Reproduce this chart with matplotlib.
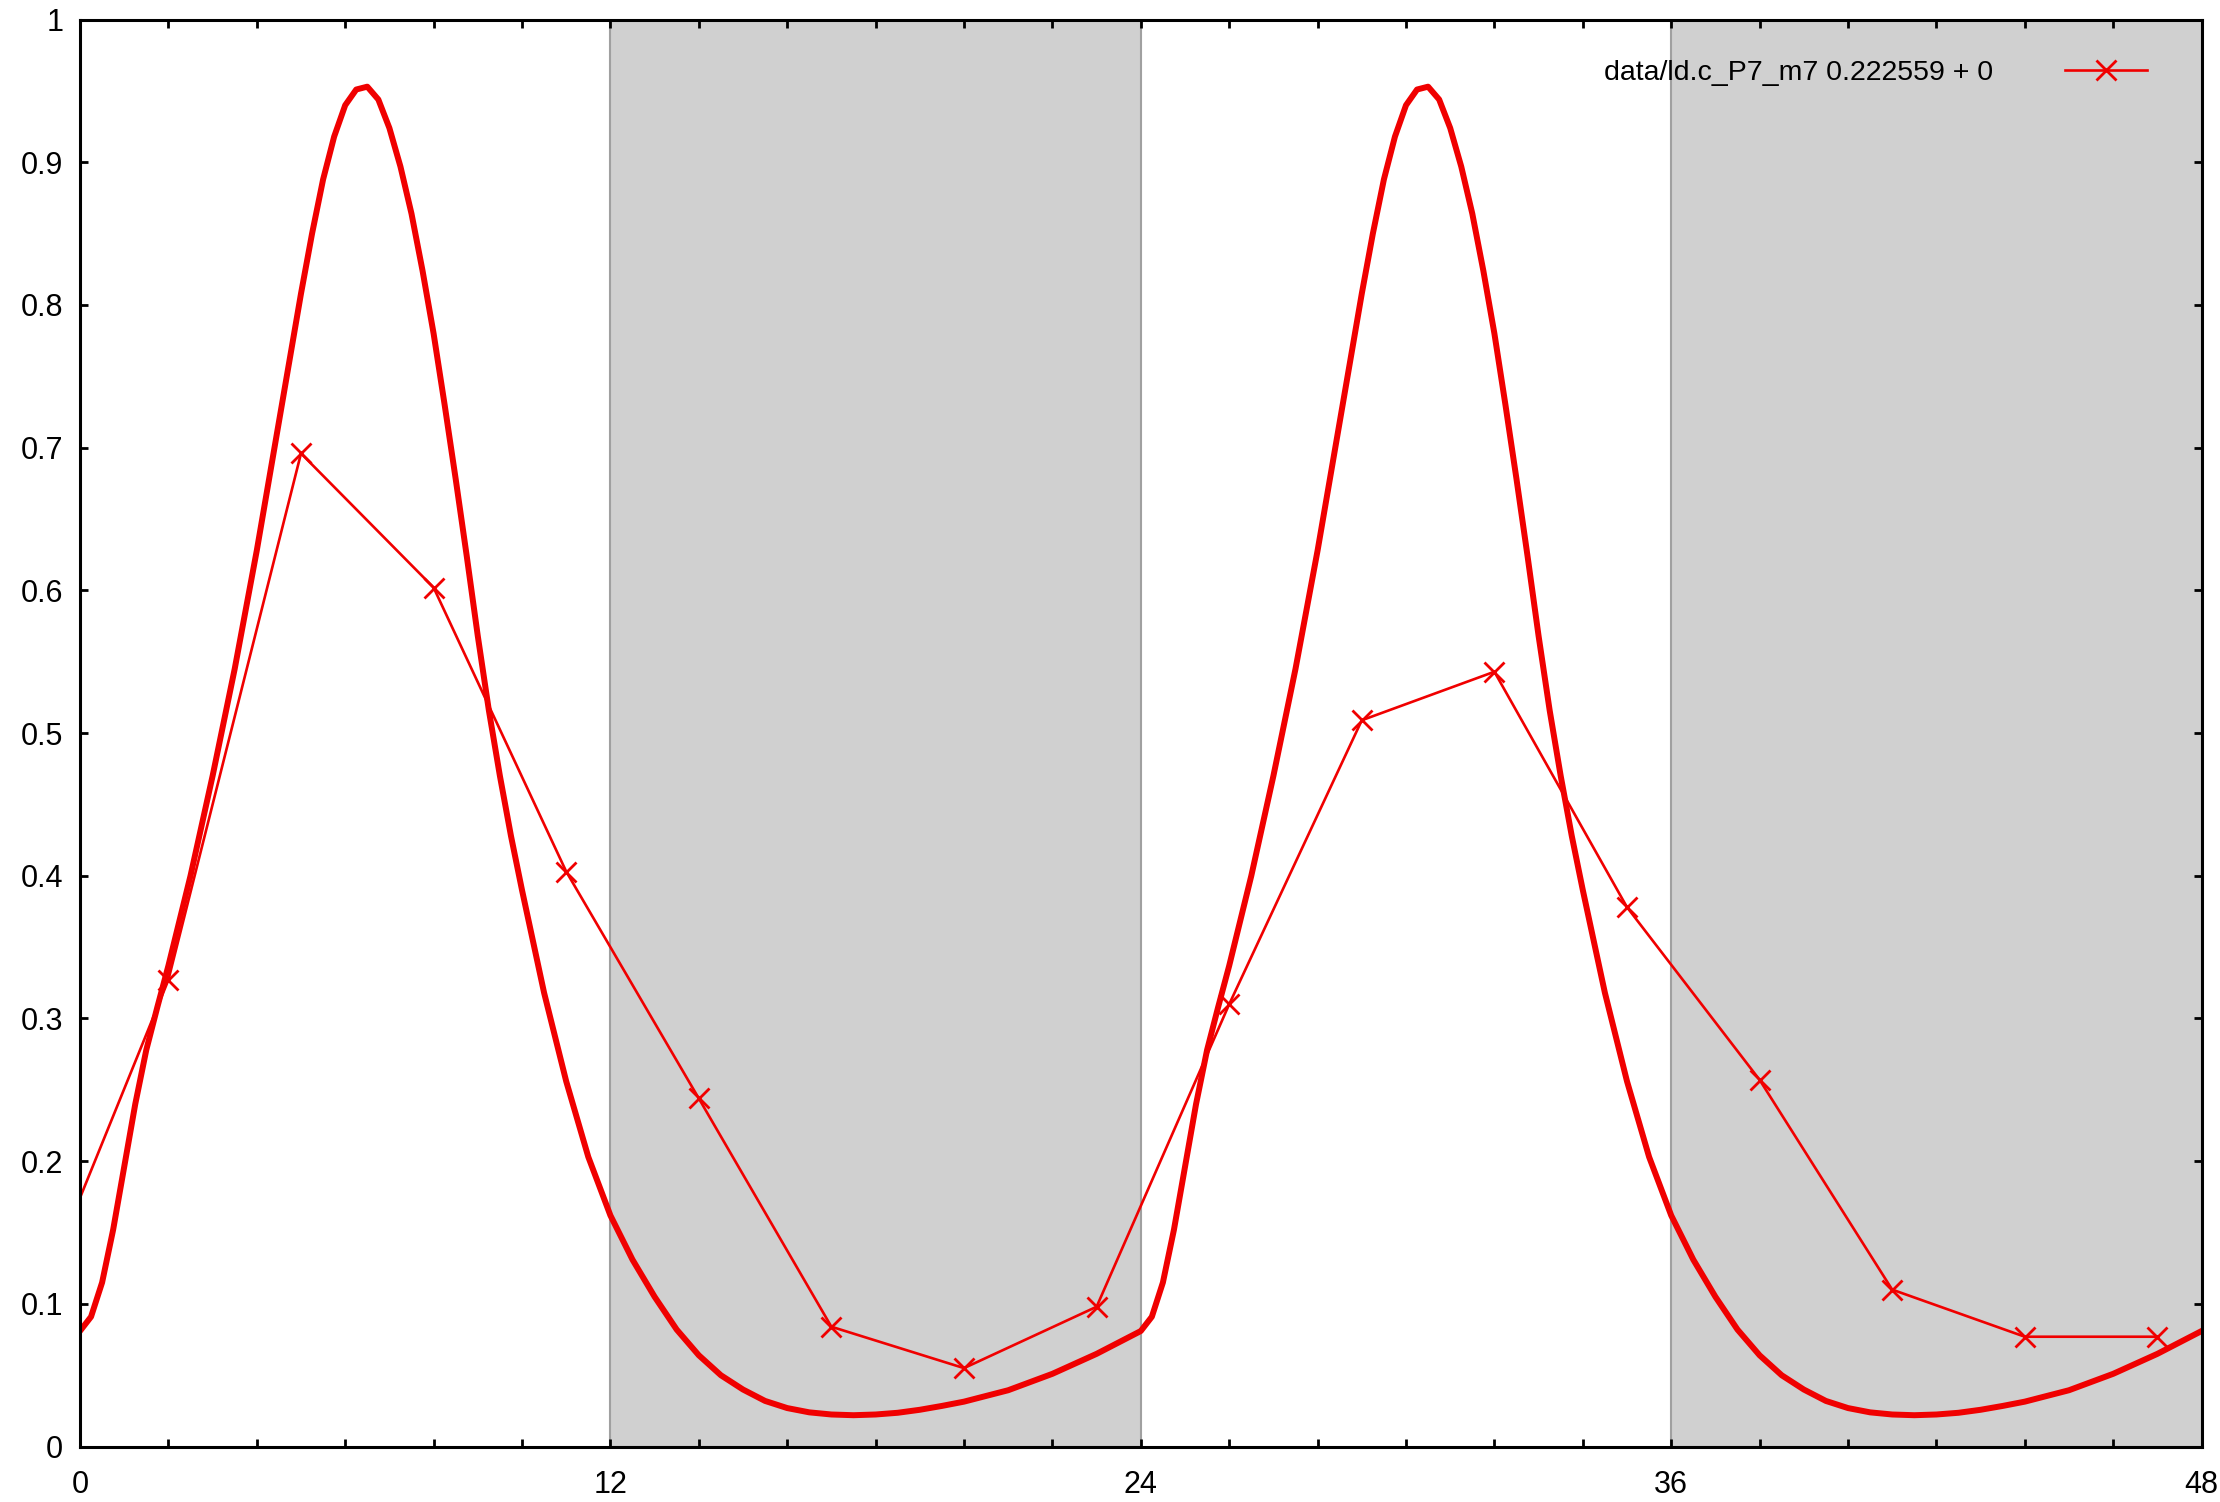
import matplotlib
matplotlib.use("Agg")
import matplotlib.pyplot as plt
from matplotlib.ticker import MultipleLocator, FormatStrFormatter

plt.rcParams["font.family"] = ["Liberation Sans", "DejaVu Sans"]

# measured values (markers), one every 3 hours; the point at -1 is the wrap-around of hour 23
hours = [-1, 2, 5, 8, 11, 14, 17, 20, 23, 26, 29, 32, 35, 38, 41, 44, 47]
level = [0.098, 0.327, 0.696, 0.602, 0.403, 0.244, 0.084, 0.055, 0.098,
         0.310, 0.509, 0.543, 0.378, 0.257, 0.110, 0.077, 0.077]
series_label = "data/ld.c_P7_m7 0.222559 + 0"

# fitted curve over one 24 h period
fit_hours = [0.0, 0.25, 0.5, 0.75, 1.0, 1.25, 1.5, 1.75, 2.0, 2.5, 3.0, 3.5, 4.0,
             4.5, 5.0, 5.25, 5.5, 5.75, 6.0, 6.25, 6.5, 6.75, 7.0, 7.25, 7.5,
             7.75, 8.0, 8.25, 8.5, 8.75, 9.0, 9.25, 9.5, 9.75, 10.0, 10.5, 11.0,
             11.5, 12.0, 12.5, 13.0, 13.5, 14.0, 14.5, 15.0, 15.5, 16.0, 16.5,
             17.0, 17.5, 18.0, 18.5, 19.0, 19.5, 20.0, 21.0, 22.0, 23.0, 23.5, 24.0]
fit_level = [0.081, 0.091, 0.115, 0.152, 0.196, 0.240, 0.278, 0.308, 0.337, 0.400,
             0.470, 0.545, 0.628, 0.718, 0.808, 0.850, 0.888, 0.918, 0.940, 0.951,
             0.953, 0.944, 0.924, 0.897, 0.864, 0.824, 0.780, 0.730, 0.678, 0.624,
             0.568, 0.516, 0.470, 0.428, 0.390, 0.318, 0.256, 0.203, 0.162, 0.131,
             0.105, 0.082, 0.064, 0.050, 0.040, 0.032, 0.027, 0.024, 0.0225, 0.022,
             0.0225, 0.0237, 0.0258, 0.0285, 0.0315, 0.0395, 0.051, 0.065, 0.073, 0.081]
period = 24
n_periods = 2

# dark phases
dark_spans = [(12, 24), (36, 48)]

x_ticks = [0, 12, 24, 36, 48]

fig = plt.figure(figsize=(22.2, 15.02), dpi=100)
ax = fig.add_axes([80 / 2220, 1 - 1446.6 / 1502, 2121.6 / 2220, 1427 / 1502])

for x0, x1 in dark_spans:
    ax.axvspan(x0, x1, facecolor="#d0d0d0", edgecolor="#a0a0a0", linewidth=1.5, zorder=0)

curve_x = []
curve_y = []
for k in range(n_periods):
    for h, v in zip(fit_hours, fit_level):
        if k > 0 and h == 0:
            continue
        curve_x.append(h + k * period)
        curve_y.append(v)
ax.plot(curve_x, curve_y, color="#f00000", linewidth=4.3, zorder=3)

ax.plot(hours, level, color="#f00000", linewidth=1.9, marker="x", markersize=14,
        markeredgewidth=2.0, label=series_label, zorder=4)

ax.set_xlim(0, 48)
ax.set_ylim(0, 1)
ax.xaxis.set_major_locator(MultipleLocator(12))
ax.xaxis.set_minor_locator(MultipleLocator(2))
ax.yaxis.set_major_locator(MultipleLocator(0.1))
ax.yaxis.set_major_formatter(FormatStrFormatter("%g"))
ax.set_xticks(x_ticks)

for s in ax.spines.values():
    s.set_linewidth(2.2)
    s.set_zorder(5)
ax.tick_params(which="both", direction="in", top=True, right=True,
               length=6, width=2, labelsize=22)
ax.tick_params(axis="x", which="major", pad=17)
ax.tick_params(axis="y", which="major", pad=12)

ax.legend(loc="center right", bbox_to_anchor=(0.9743, 0.9626), frameon=False,
          markerfirst=False, fontsize=20.5, handlelength=2.9, handletextpad=2.5,
          borderpad=0, borderaxespad=0, numpoints=1)

fig.savefig("out.png", dpi=100)
